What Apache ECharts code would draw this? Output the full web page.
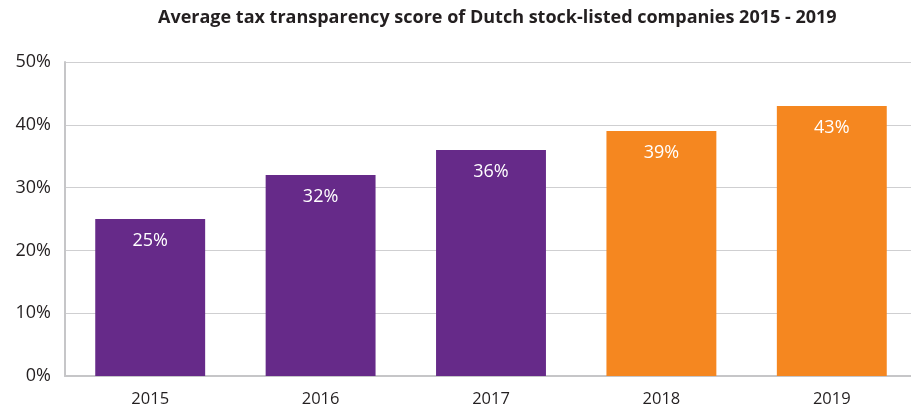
<!DOCTYPE html>
<html>
<head>
<meta charset="utf-8">
<style>
  html, body { margin: 0; padding: 0; background: #fff; overflow: hidden; }
  #chart { width: 918px; height: 411px; }
</style>
<script src="https://cdn.jsdelivr.net/npm/echarts@6/dist/echarts.min.js"></script>
</head>
<body>
<div id="chart"></div>
<script>
var years = ['2015', '2016', '2017', '2018', '2019'];
var scores = [25, 32, 36, 39, 43];
var barColors = ['#662a89', '#662a89', '#662a89', '#f58720', '#f58720'];

var chartDom = document.getElementById('chart');
var myChart = echarts.init(chartDom);

var option = {
    animation: false,
    title: {
        text: 'Average tax transparency score of Dutch stock-listed companies 2015 - 2019',
        left: 153,
        top: 4,
        textStyle: {
            fontFamily: 'Open Sans',
            fontSize: 18,
            fontWeight: 'bold',
            color: '#231f20'
        }
    },
    // the plot runs a little past the right edge of the picture
    grid: {
        left: 65,
        right: 1,
        top: 62,
        bottom: 35
    },
    xAxis: {
        type: 'category',
        data: years,
        axisLine: { lineStyle: { color: '#c6c6c8', width: 2 } },
        axisTick: { show: false },
        axisLabel: {
            fontFamily: 'Open Sans',
            fontSize: 16.5,
            color: '#231f20',
            margin: 15
        }
    },
    yAxis: {
        type: 'value',
        min: 0,
        max: 50,
        interval: 10,
        axisLine: { show: true, lineStyle: { color: '#c6c6c8', width: 2 } },
        axisTick: { show: false },
        splitLine: { lineStyle: { color: '#cfcfd1', width: 1 } },
        axisLabel: {
            formatter: '{value}%',
            fontFamily: 'Open Sans',
            fontSize: 18,
            color: '#231f20',
            margin: 14
        }
    },
    series: [
        {
            type: 'bar',
            barWidth: '64.5%',
            data: scores.map(function (v, i) {
                return { value: v, itemStyle: { color: barColors[i] } };
            }),
            label: {
                show: true,
                position: 'insideTop',
                distance: 13,
                formatter: '{c}%',
                fontFamily: 'Open Sans',
                fontSize: 18,
                color: '#ffffff'
            }
        }
    ]
};

myChart.setOption(option);
</script>
</body>
</html>
